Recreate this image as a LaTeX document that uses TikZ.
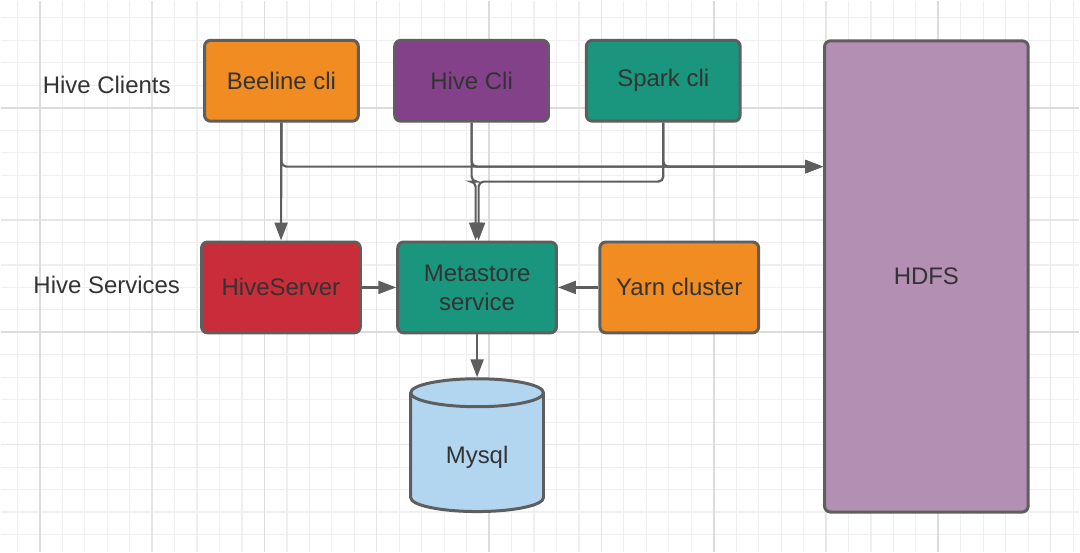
\documentclass[tikz,border=0pt]{standalone}
\usepackage{fontspec}
\setmainfont{Liberation Sans}
\usetikzlibrary{arrows.meta}

\definecolor{vienxam}{HTML}{5E5E5E}
\definecolor{chuxam}{HTML}{333333}
\definecolor{luoinhat}{HTML}{EFEFEF}
\definecolor{luoivua}{HTML}{E6E6E6}
\definecolor{luoidam}{HTML}{DCDCDC}
\definecolor{camhive}{HTML}{F08C22}
\definecolor{timhive}{HTML}{83418A}
\definecolor{xanhhive}{HTML}{19967D}
\definecolor{dohive}{HTML}{C92D39}
\definecolor{timnhat}{HTML}{B38FB3}
\definecolor{xanhnhat}{HTML}{B2D6F0}

\begin{document}
\begin{tikzpicture}[x=1pt,y=-1pt,
  chu/.style={text=chuxam, font=\fontsize{24}{29}\selectfont},
  hop/.style={chu, draw=vienxam, line width=3pt, rounded corners=6pt, align=center, inner sep=0pt},
  hopkhach/.style={hop, minimum width=154pt, minimum height=81pt},
  hopdv/.style={hop, minimum width=159pt, minimum height=91pt},
  noi/.style={draw=vienxam, line width=2.2pt, rounded corners=5pt, -{Triangle[length=18pt,width=13pt]}}]

% Nền trắng và lưới
\fill[white] (0,0) rectangle (1080,552);
\foreach \x in {16.5,39,...,1080} \draw[luoinhat, line width=1.2pt] (\x,0) -- (\x,552);
\foreach \y in {17,39.5,...,552} \draw[luoinhat, line width=1.2pt] (0,\y) -- (1080,\y);
\foreach \x in {151.5,376.5,601.5,826.5,1051.5} \draw[luoivua, line width=1.4pt] (\x,0) -- (\x,552);
\foreach \y in {219.5,444.5} \draw[luoivua, line width=1.4pt] (0,\y) -- (1080,\y);
\foreach \x in {39,264,489,714,939} \draw[luoidam, line width=1.8pt] (\x,0) -- (\x,552);
\foreach \y in {107,332} \draw[luoidam, line width=1.8pt] (0,\y) -- (1080,\y);
\useasboundingbox (0,0) rectangle (1080,552);

% Nhãn các tầng
\node[chu] (nhankhach) at (106,84) {Hive Clients};
\node[chu] (nhandv) at (106,285) {Hive Services};

% Các client
\node[hopkhach, fill=camhive] (beeline) at (281,80) {Beeline cli};
\node[hopkhach, fill=timhive] (hivecli) at (471.5,80) {Hive Cli};
\node[hopkhach, fill=xanhhive] (sparkcli) at (663.5,80) {Spark cli};

% Các dịch vụ
\node[hopdv, fill=dohive] (hiveserver) at (280.5,287) {HiveServer};
\node[hopdv, fill=xanhhive] (metastore) at (477,287) {Metastore\\service};
\node[hopdv, fill=camhive] (yarn) at (679.5,287) {Yarn cluster};

% HDFS
\node[hop, fill=timnhat, minimum width=204pt, minimum height=472pt] (hdfs) at (927,276) {HDFS};

% Trụ Mysql (vẽ trực tiếp)
\draw[vienxam, line width=3pt, fill=xanhnhat] (410.5,392.5) -- (410.5,497.5)
  arc[start angle=180, end angle=0, x radius=66.5, y radius=14] -- (543.5,392.5)
  arc[start angle=0, end angle=-180, x radius=66.5, y radius=14] -- cycle;
\draw[vienxam, line width=3pt] (410.5,392.5) arc[start angle=180, end angle=0, x radius=66.5, y radius=14];
\node[minimum width=136pt, minimum height=136pt, inner sep=0pt, outer sep=0pt,
  label={[chu, yshift=-12pt]center:Mysql}] (mysql) at (477,445) {};

% Các đường nối
\coordinate (truc1) at (0,166);
\coordinate (truc2) at (0,181);
\draw[noi] (beeline) -- (hiveserver);
\draw[noi] (beeline.south) |- (hdfs.west |- truc1);
\draw[noi] (hivecli.south) |- (hdfs.west |- truc1);
\draw[noi] (sparkcli.south) |- (hdfs.west |- truc1);
\draw[noi] (hivecli.south) |- ([xshift=-1.5pt]metastore.north |- truc2) -- ([xshift=-1.5pt]metastore.north);
\draw[noi] (sparkcli.south) |- ([xshift=1.5pt]metastore.north |- truc2) -- ([xshift=1.5pt]metastore.north);
\draw[noi] (hiveserver) -- (metastore);
\draw[noi] (yarn) -- (metastore);
\draw[noi] (metastore) -- (mysql);
\end{tikzpicture}
\end{document}
